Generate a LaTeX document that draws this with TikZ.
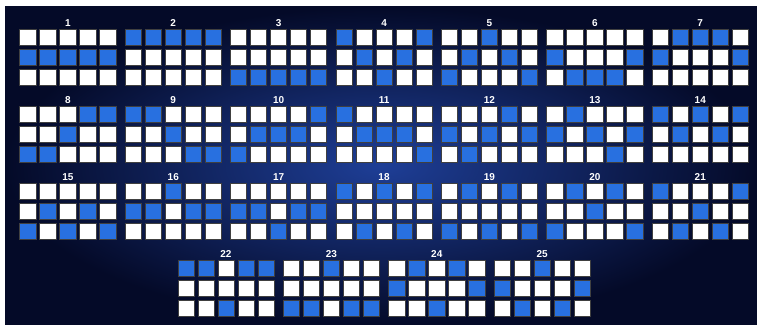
\documentclass[tikz,border=0pt]{standalone}
\usepackage{fontspec}
\setmainfont{Liberation Sans}
\usepackage{xcolor}
\usepackage{tikz}

\definecolor{bgcentre}{RGB}{30,62,150}
\definecolor{bgedge}{RGB}{4,10,40}
\definecolor{lineblue}{RGB}{40,112,224}

\begin{document}
\begin{tikzpicture}[
    x=1pt, y=-1pt,
    cell/.style={rectangle, draw=black!75, line width=0.6pt, minimum size=16.2pt, inner sep=0pt},
    linenum/.style={text=white, font=\fontsize{10}{11}\selectfont\bfseries, inner sep=0pt, anchor=base}
  ]
  % backdrop
  \fill[white] (0,0) rectangle (757,328);
  \shade[inner color=bgcentre, outer color=bgedge] (5,7) rectangle (757,325);
  % paylines: number / row on each reel (0 top, 1 middle, 2 bottom)
  \foreach \n/\a/\b/\c/\d/\e in {
      1/1/1/1/1/1, 2/0/0/0/0/0, 3/2/2/2/2/2, 4/0/1/2/1/0, 5/2/1/0/1/2,
      6/1/2/2/2/1, 7/1/0/0/0/1, 8/2/2/1/0/0, 9/0/0/1/2/2, 10/2/1/1/1/0,
      11/0/1/1/1/2, 12/1/2/1/0/1, 13/1/0/1/2/1, 14/0/1/0/1/0, 15/2/1/2/1/2,
      16/1/1/0/1/1, 17/1/1/2/1/1, 18/0/2/0/2/0, 19/2/0/2/0/2, 20/2/0/1/0/2,
      21/0/2/1/2/0, 22/0/0/2/0/0, 23/2/2/0/2/2, 24/1/0/2/0/1, 25/1/2/0/2/1}{
    \pgfmathsetmacro\gx{19.5+105.4*(mod(\n-1,7)+(\n>21)*1.5)}
    \pgfmathsetmacro\gy{29.3+77*floor((\n-1)/7)}
    \node[linenum] (num\n) at (\gx+48.35,\gy-3) {\n};
    \foreach \r [count=\col from 0] in {\a,\b,\c,\d,\e}{
      \foreach \k in {0,1,2}{
        \ifnum\k=\r \def\cellfill{lineblue}\else\def\cellfill{white}\fi
        \node[cell, fill=\cellfill] (c\n-\col-\k) at (\gx+8.35+20*\col,\gy+8.35+20*\k) {};
      }
    }
  }
\end{tikzpicture}
\end{document}
